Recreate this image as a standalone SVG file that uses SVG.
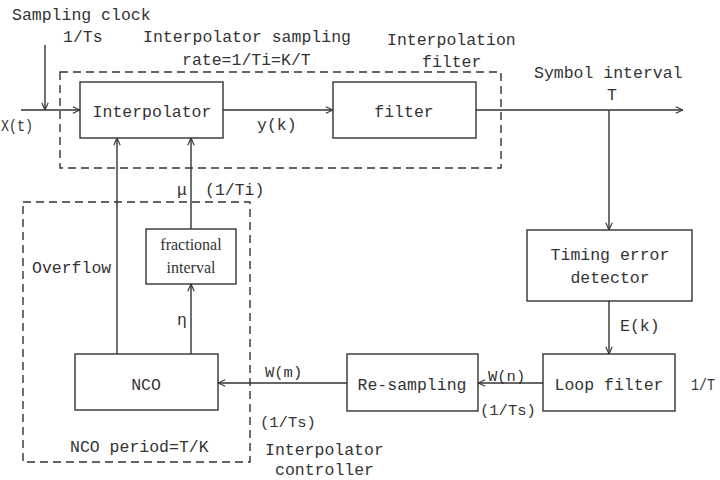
<svg xmlns="http://www.w3.org/2000/svg" width="720" height="480" viewBox="0 0 720 480">
<style>
text{font-family:"Liberation Mono","DejaVu Sans Mono",monospace;font-size:16.5px;fill:#333}
.s{font-size:15.5px}
.serif{font-family:"Liberation Serif","Times New Roman",serif;font-size:16px}
.box{fill:#fff;stroke:#333;stroke-width:1.4}
.dash{fill:none;stroke:#333;stroke-width:1.4;stroke-dasharray:8 5}
.ln{fill:none;stroke:#333;stroke-width:1.4}
.c{text-anchor:middle}
</style>
<defs>
<marker id="ah" viewBox="0 0 10 10" refX="10" refY="5" markerWidth="8" markerHeight="8" markerUnits="userSpaceOnUse" orient="auto">
<path d="M1,1 L10,5 L1,9" fill="none" stroke="#333" stroke-width="1.4"/>
</marker>
</defs>
<rect width="720" height="480" fill="#fff"/>
<g id="groups">
<rect class="dash" x="60" y="72" width="441" height="96"/>
<rect class="dash" x="23" y="202" width="227" height="260"/>
</g>
<g id="connectors">
<path class="ln" d="M21,110 H80" marker-end="url(#ah)"/>
<path class="ln" d="M45,45 V110" marker-end="url(#ah)"/>
<path class="ln" d="M223,110 H333" marker-end="url(#ah)"/>
<path class="ln" d="M476,110 H683" marker-end="url(#ah)"/>
<path class="ln" d="M609,110 V230" marker-end="url(#ah)"/>
<path class="ln" d="M609,301 V354" marker-end="url(#ah)"/>
<path class="ln" d="M543,383 H478" marker-end="url(#ah)"/>
<path class="ln" d="M347,383 H218" marker-end="url(#ah)"/>
<path class="ln" d="M117,354 V138" marker-end="url(#ah)"/>
<path class="ln" d="M191,229 V138" marker-end="url(#ah)"/>
<path class="ln" d="M191,354 V284" marker-end="url(#ah)"/>
</g>
<g id="interpolator">
<rect class="box" x="80" y="82" width="143" height="56"/>
<text class="c" x="152" y="117">Interpolator</text>
</g>
<g id="filter">
<rect class="box" x="333" y="82" width="143" height="56"/>
<text class="c" x="404" y="117">filter</text>
</g>
<g id="timing-error-detector">
<rect class="box" x="527" y="230" width="165" height="71"/>
<text class="c" x="610" y="260">Timing error</text>
<text class="c" x="610" y="283">detector</text>
</g>
<g id="loop-filter">
<rect class="box" x="543" y="354" width="132" height="57"/>
<text class="c" x="609" y="390">Loop filter</text>
</g>
<g id="re-sampling">
<rect class="box" x="347" y="354" width="131" height="57"/>
<text class="c" x="412" y="390">Re-sampling</text>
</g>
<g id="nco">
<rect class="box" x="75" y="354" width="143" height="56"/>
<text class="c" x="146" y="390">NCO</text>
</g>
<g id="fractional-interval">
<rect class="box" x="146" y="229" width="90" height="55"/>
<text class="c serif" x="191" y="250">fractional</text>
<text class="c serif" x="191" y="273">interval</text>
</g>
<g id="labels">
<text x="12" y="20">Sampling clock</text>
<text x="63" y="42">1/Ts</text>
<text x="143" y="42">Interpolator sampling</text>
<text x="182" y="65">rate=1/Ti=K/T</text>
<text x="387" y="45">Interpolation</text>
<text x="422" y="67">filter</text>
<text x="534" y="78">Symbol interval</text>
<text x="607" y="100">T</text>
<text x="1" y="131" textLength="32" lengthAdjust="spacingAndGlyphs">X(t)</text>
<text x="257" y="130">y(k)</text>
<text x="177" y="195">μ</text>
<text x="205" y="195">(1/Ti)</text>
<text x="32" y="273">Overflow</text>
<text x="177" y="325">η</text>
<text x="620" y="331">E(k)</text>
<text x="691" y="390" textLength="24" lengthAdjust="spacingAndGlyphs">1/T</text>
<text class="s" x="488" y="381">W(n)</text>
<text class="s" x="480" y="415">(1/Ts)</text>
<text class="s" x="265" y="377">W(m)</text>
<text class="s" x="260" y="427">(1/Ts)</text>
<text x="70" y="452">NCO period=T/K</text>
<text x="265" y="455">Interpolator</text>
<text x="275" y="475">controller</text>
</g>
</svg>
